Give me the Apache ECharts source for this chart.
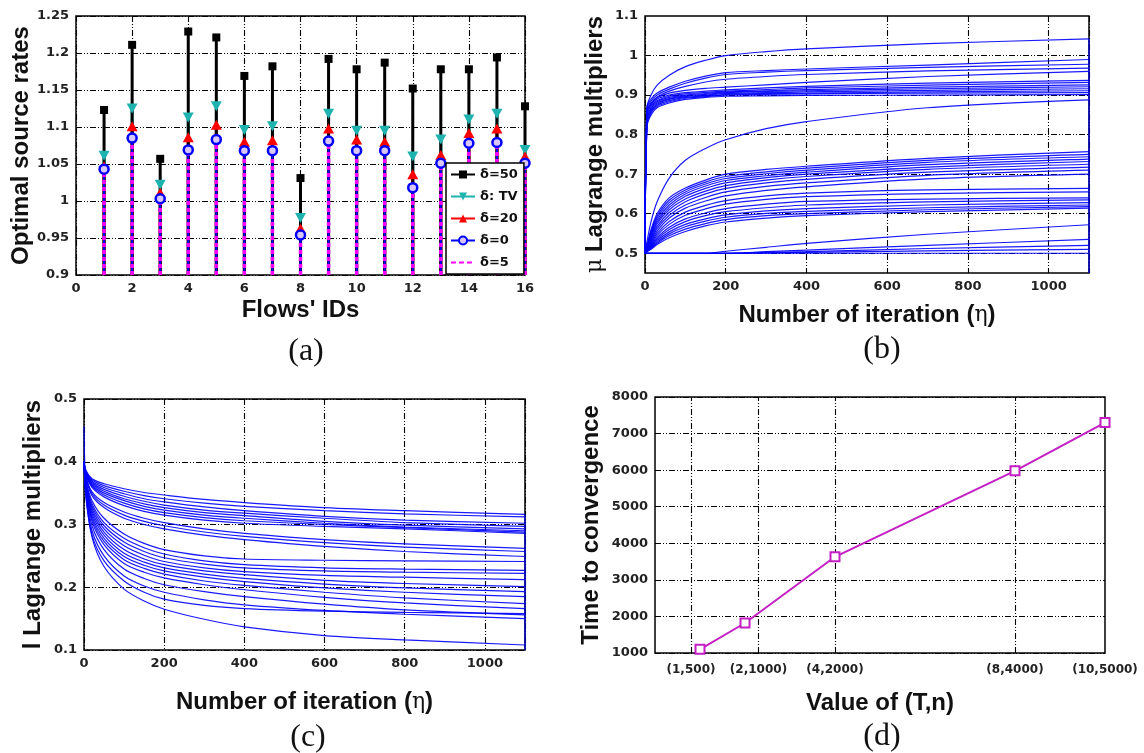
<!DOCTYPE html>
<html><head><meta charset="utf-8">
<script src="https://cdn.jsdelivr.net/npm/echarts@6/dist/echarts.min.js"></script>
<style>html,body{margin:0;padding:0;background:#fff}#c{width:1144px;height:753px}</style>
</head><body><div id="c"></div>
<script>
// ---------- Panel (a): optimal source rates ----------
const flowIds = [1,2,3,4,5,6,7,8,9,10,11,12,13,14,15,16];
const rateD50 = [1.123,1.211,1.057,1.229,1.221,1.169,1.182,1.031,1.192,1.178,1.187,1.152,1.178,1.178,1.194,1.128];
const rateTV  = [1.061,1.125,1.022,1.113,1.128,1.096,1.101,0.977,1.118,1.095,1.095,1.060,1.083,1.110,1.118,1.069];
const rateD20 = [1.047,1.101,1.011,1.086,1.103,1.080,1.082,0.963,1.098,1.083,1.080,1.036,1.062,1.092,1.098,1.060];
const rateD0  = [1.043,1.085,1.003,1.069,1.083,1.068,1.068,0.954,1.081,1.068,1.068,1.018,1.051,1.078,1.079,1.051];
const rateD5  = [1.043,1.085,1.003,1.069,1.083,1.068,1.068,0.954,1.081,1.068,1.068,1.018,1.051,1.078,1.079,1.051];
const rateNames = ['δ=50','δ: TV','δ=20','δ=0','δ=5'];
const rateAxisMin = 0.9, rateAxisMax = 1.25;

// ---------- Panel (b): mu Lagrange multipliers ----------
const iterB = [0,5,15,30,60,100,150,200,300,400,700,1100];
const muCurves = [
 [0.5,0.87,0.9,0.925,0.95,0.972,0.988,1.0,1.01,1.017,1.03,1.042],
 [0.5,0.87,0.89,0.905,0.92,0.935,0.948,0.957,0.962,0.966,0.976,0.99],
 [0.5,0.865,0.885,0.9,0.915,0.93,0.943,0.952,0.958,0.962,0.97,0.978],
 [0.5,0.86,0.88,0.895,0.91,0.922,0.933,0.94,0.947,0.952,0.961,0.968],
 [0.5,0.86,0.878,0.893,0.905,0.912,0.917,0.92,0.926,0.932,0.947,0.96],
 [0.5,0.855,0.875,0.89,0.9,0.906,0.91,0.913,0.918,0.922,0.93,0.937],
 [0.5,0.85,0.872,0.886,0.897,0.903,0.907,0.91,0.914,0.918,0.925,0.932],
 [0.5,0.845,0.868,0.883,0.894,0.9,0.904,0.908,0.911,0.914,0.92,0.926],
 [0.5,0.84,0.865,0.88,0.891,0.898,0.902,0.906,0.909,0.911,0.916,0.921],
 [0.5,0.835,0.862,0.877,0.889,0.896,0.9,0.904,0.906,0.908,0.912,0.916],
 [0.5,0.83,0.858,0.874,0.886,0.894,0.898,0.902,0.904,0.905,0.908,0.911],
 [0.5,0.825,0.855,0.871,0.883,0.892,0.896,0.9,0.902,0.903,0.905,0.906],
 [0.5,0.82,0.85,0.868,0.88,0.889,0.894,0.897,0.898,0.899,0.9,0.901],
 [0.5,0.53,0.58,0.63,0.69,0.735,0.765,0.787,0.815,0.833,0.868,0.888],
 [0.5,0.52,0.56,0.6,0.64,0.665,0.685,0.70,0.712,0.72,0.74,0.757],
 [0.5,0.518,0.555,0.594,0.634,0.66,0.68,0.694,0.706,0.715,0.735,0.75],
 [0.5,0.517,0.551,0.589,0.628,0.655,0.675,0.689,0.701,0.71,0.73,0.744],
 [0.5,0.516,0.547,0.584,0.622,0.65,0.67,0.684,0.696,0.705,0.724,0.738],
 [0.5,0.515,0.543,0.579,0.616,0.644,0.664,0.678,0.691,0.70,0.718,0.732],
 [0.5,0.514,0.539,0.574,0.61,0.637,0.657,0.671,0.685,0.694,0.712,0.725],
 [0.5,0.513,0.535,0.568,0.603,0.63,0.65,0.664,0.678,0.687,0.705,0.718],
 [0.5,0.512,0.531,0.562,0.596,0.622,0.641,0.655,0.669,0.678,0.697,0.71],
 [0.5,0.511,0.528,0.556,0.589,0.614,0.632,0.645,0.659,0.668,0.688,0.70],
 [0.5,0.51,0.525,0.55,0.58,0.604,0.621,0.633,0.645,0.652,0.66,0.664],
 [0.5,0.509,0.522,0.545,0.573,0.596,0.612,0.624,0.636,0.643,0.651,0.655],
 [0.5,0.508,0.52,0.54,0.566,0.587,0.602,0.613,0.624,0.631,0.637,0.64],
 [0.5,0.507,0.518,0.536,0.56,0.58,0.595,0.605,0.615,0.622,0.63,0.635],
 [0.5,0.506,0.516,0.532,0.554,0.573,0.587,0.597,0.607,0.613,0.622,0.628],
 [0.5,0.505,0.514,0.528,0.549,0.567,0.581,0.591,0.601,0.606,0.615,0.622],
 [0.5,0.504,0.512,0.525,0.544,0.561,0.575,0.585,0.595,0.6,0.61,0.618],
 [0.5,0.504,0.51,0.522,0.539,0.555,0.569,0.579,0.589,0.595,0.605,0.614],
 [0.5,0.5,0.5,0.5,0.5,0.5,0.5,0.505,0.515,0.525,0.548,0.572],
 [0.5,0.5,0.5,0.5,0.5,0.5,0.5,0.5,0.504,0.508,0.52,0.535],
 [0.5,0.5,0.5,0.5,0.5,0.5,0.5,0.5,0.502,0.504,0.512,0.52],
 [0.5,0.5,0.5,0.5,0.5,0.5,0.5,0.5,0.501,0.502,0.506,0.51],
 [0.5,0.5,0.5,0.5,0.5,0.5,0.5,0.5,0.5,0.5,0.5,0.5]
];
const muEdge = [[1100,0.45],[1100,1.042]];
const muGridY = [0.5,0.6,0.7,0.8,0.9,1.0];

// ---------- Panel (c): l Lagrange multipliers ----------
const iterC = [0,5,20,50,100,150,200,300,400,600,800,1100];
const lambdaCurves = [
 [0.40,0.386,0.373,0.365,0.357,0.351,0.347,0.34,0.335,0.327,0.322,0.316],
 [0.40,0.385,0.371,0.362,0.353,0.346,0.341,0.334,0.329,0.322,0.317,0.312],
 [0.40,0.384,0.369,0.359,0.349,0.341,0.336,0.328,0.322,0.313,0.307,0.302],
 [0.40,0.383,0.367,0.356,0.345,0.337,0.331,0.323,0.318,0.31,0.303,0.297],
 [0.40,0.382,0.365,0.353,0.341,0.333,0.327,0.319,0.314,0.305,0.299,0.293],
 [0.40,0.381,0.363,0.35,0.338,0.329,0.323,0.315,0.31,0.302,0.296,0.29],
 [0.40,0.38,0.361,0.347,0.334,0.325,0.319,0.311,0.306,0.3,0.295,0.288],
 [0.40,0.379,0.359,0.344,0.33,0.321,0.315,0.307,0.302,0.297,0.293,0.286],
 [0.40,0.376,0.352,0.335,0.32,0.31,0.303,0.293,0.286,0.276,0.269,0.262],
 [0.40,0.375,0.349,0.331,0.315,0.305,0.298,0.288,0.281,0.271,0.264,0.257],
 [0.40,0.374,0.346,0.327,0.31,0.3,0.293,0.283,0.276,0.265,0.257,0.249],
 [0.40,0.37,0.338,0.31,0.285,0.27,0.26,0.25,0.245,0.243,0.242,0.241],
 [0.40,0.368,0.333,0.303,0.278,0.263,0.253,0.242,0.236,0.231,0.229,0.227],
 [0.40,0.366,0.329,0.298,0.272,0.257,0.247,0.237,0.231,0.226,0.224,0.222],
 [0.40,0.364,0.325,0.293,0.266,0.251,0.241,0.231,0.225,0.219,0.216,0.212],
 [0.40,0.362,0.321,0.288,0.26,0.245,0.236,0.226,0.22,0.211,0.206,0.201],
 [0.40,0.36,0.317,0.283,0.254,0.24,0.231,0.221,0.214,0.205,0.199,0.193],
 [0.40,0.358,0.313,0.278,0.249,0.235,0.226,0.216,0.209,0.199,0.192,0.185],
 [0.40,0.356,0.309,0.273,0.244,0.23,0.221,0.21,0.203,0.192,0.183,0.174],
 [0.40,0.354,0.305,0.268,0.238,0.224,0.215,0.204,0.196,0.184,0.175,0.166],
 [0.40,0.35,0.298,0.26,0.229,0.214,0.204,0.193,0.185,0.173,0.164,0.156],
 [0.40,0.346,0.29,0.25,0.218,0.202,0.192,0.18,0.172,0.163,0.157,0.15],
 [0.40,0.342,0.283,0.242,0.21,0.192,0.181,0.171,0.166,0.162,0.16,0.158],
 [0.456,0.35,0.28,0.233,0.197,0.178,0.165,0.149,0.137,0.123,0.116,0.108]
];
const lambdaEdge = [[1100,0.1],[1100,0.316]];

// ---------- Panel (d): time to convergence ----------
const tnN = [500,1000,2000,4000,5000];
const convTime = [1100,1820,3630,5980,7300];
const tnTickPos = [400,1150,2000,4000,5000];
const tnLabels = ['(1,500)','(2,1000)','(4,2000)','(8,4000)','(10,5000)'];
const tnGridX = [400,1150,2000,4000];

// ---------- styles ----------
const gridLine = {color:'#000', width:1.1, type:[6,2,1,2,1,2]};
const tickFont = {fontFamily:'DejaVu Sans', fontWeight:'bold', fontSize:13, color:'#222'};
const nameFont = {fontFamily:'Liberation Sans', fontWeight:'bold', fontSize:24, color:'#111',
  rich:{g:{fontFamily:'DejaVu Serif', fontWeight:'normal', fontSize:22, color:'#111'}}};
const frame = {show:true, borderColor:'#000', borderWidth:1.5, backgroundColor:'#fff'};
const BLUE = '#0000ff';
const plainNum = v => String(+(+v).toFixed(4));

function valueAxis(o){
  return Object.assign({type:'value', axisLine:{show:false}, axisTick:{show:false},
    splitLine:{show:true, lineStyle:gridLine}, axisLabel:Object.assign({margin:7, formatter:plainNum}, tickFont),
    nameLocation:'middle', nameTextStyle:nameFont}, o);
}

function stem(vals, color, width, dash){
  return {type:'custom', xAxisIndex:0, yAxisIndex:0, silent:true,
    data: flowIds.map((f,i)=>[f, vals[i]]), encode:{x:0,y:1},
    renderItem:(params, api)=>{
      const p0 = api.coord([api.value(0), rateAxisMin]);
      const p1 = api.coord([api.value(0), api.value(1)]);
      return {type:'line', shape:{x1:p0[0],y1:p0[1],x2:p1[0],y2:p1[1]},
        style:{stroke:color, lineWidth:width, lineDash:dash||null}};
    }};
}
function markers(name, vals, color, symbol, size, extra){
  return Object.assign({type:'line', name, xAxisIndex:0, yAxisIndex:0,
    data: flowIds.map((f,i)=>[f, vals[i]]), symbol, symbolSize:size,
    itemStyle:{color, opacity:1}, lineStyle:{color, width:3, opacity:0}, z:4}, extra||{});
}

const series = [
  stem(rateTV, '#1fb3b0', 3),
  stem(rateD20, '#ff0000', 3),
  stem(rateD50, '#000000', 3),
  stem(rateD0, BLUE, 2),
  stem(rateD5, '#ff00ff', 3.5, [4,3]),
  markers('δ=50', rateD50, '#000', 'rect', 8),
  markers('δ: TV', rateTV, '#1fb3b0', 'triangle', [11,10], {symbolRotate:180}),
  markers('δ=20', rateD20, '#ff0000', 'triangle', [11,10]),
  markers('δ=0', rateD0, BLUE, 'circle', 9, {itemStyle:{color:'#d8c8ff', borderColor:BLUE, borderWidth:2.5, opacity:1}}),
  {type:'line', name:'δ=5', xAxisIndex:0, yAxisIndex:0, data: flowIds.map((f,i)=>[f, rateD5[i]]),
    showSymbol:false, symbol:'none', lineStyle:{color:'#ff00ff', width:3, type:[5,3], opacity:0}, itemStyle:{color:'#ff00ff'}}
];

muCurves.forEach(c=>series.push({type:'line', xAxisIndex:1, yAxisIndex:1, silent:true,
  data: iterB.map((x,i)=>[x,c[i]]), smooth:0.3, symbol:'none',
  lineStyle:{color:BLUE, width:1.2, opacity:0.9}, z:3}));
series.push({type:'line', xAxisIndex:1, yAxisIndex:1, silent:true, data:muEdge, symbol:'none',
  lineStyle:{color:BLUE, width:1.2}, z:3,
  markLine:{silent:true, symbol:'none', label:{show:false}, lineStyle:gridLine, z:1,
    data: muGridY.map(v=>({yAxis:v}))}});

lambdaCurves.forEach(c=>series.push({type:'line', xAxisIndex:2, yAxisIndex:2, silent:true,
  data: iterC.map((x,i)=>[x,c[i]]), smooth:0.3, symbol:'none',
  lineStyle:{color:BLUE, width:1.2, opacity:0.9}, z:3}));
series.push({type:'line', xAxisIndex:2, yAxisIndex:2, silent:true, data:lambdaEdge, symbol:'none',
  lineStyle:{color:BLUE, width:1.2}, z:3});

series.push({type:'line', xAxisIndex:3, yAxisIndex:3, silent:true,
  data: tnN.map((n,i)=>[n, convTime[i]]), symbol:'emptyRect', symbolSize:9,
  lineStyle:{color:'#c41fc4', width:2}, itemStyle:{color:'#c41fc4', borderWidth:1.5}, z:4,
  markLine:{silent:true, symbol:'none', label:{show:false}, lineStyle:gridLine, z:1,
    data: tnGridX.map(v=>({xAxis:v}))}});

const option = {
  animation:false,
  backgroundColor:'#fff',
  grid:[
    Object.assign({left:76, top:16, width:449, height:259}, frame),
    Object.assign({left:645, top:16, width:444, height:257}, frame),
    Object.assign({left:84, top:399, width:441, height:251}, frame),
    Object.assign({left:655, top:397, width:450, height:256}, frame)
  ],
  xAxis:[
    valueAxis({gridIndex:0, min:0, max:16, interval:2, name:"Flows' IDs", nameGap:23}),
    valueAxis({gridIndex:1, min:0, max:1100, interval:200, name:'Number of iteration ({g|η})', nameGap:30,
      axisLabel:Object.assign({margin:7, showMaxLabel:false, formatter:plainNum}, tickFont)}),
    valueAxis({gridIndex:2, min:0, max:1100, interval:200, name:'Number of iteration ({g|η})', nameGap:40,
      axisLabel:Object.assign({margin:7, showMaxLabel:false, formatter:plainNum}, tickFont)}),
    valueAxis({gridIndex:3, min:0, max:5000, name:'Value of (T,n)', nameGap:38, splitLine:{show:false},
      axisLabel:Object.assign({margin:11, customValues:tnTickPos,
        formatter:v=>{const k=tnTickPos.indexOf(v); return k>=0?tnLabels[k]:'';}}, tickFont, {fontSize:12})})
  ],
  yAxis:[
    valueAxis({gridIndex:0, min:rateAxisMin, max:rateAxisMax, interval:0.05, name:'Optimal source rates', nameGap:41}),
    valueAxis({gridIndex:1, min:0.45, max:1.1, interval:0.05, name:'{g|μ} Lagrange multipliers', nameGap:38,
      splitLine:{show:false},
      axisLabel:Object.assign({margin:7, formatter:v=>{const t=v*10; return Math.abs(t-Math.round(t))<1e-6 ? plainNum(v) : '';}}, tickFont)}),
    valueAxis({gridIndex:2, min:0.1, max:0.5, interval:0.1, name:'l Lagrange multipliers', nameGap:39}),
    valueAxis({gridIndex:3, min:1000, max:8000, interval:1000, name:'Time to convergence', nameGap:52})
  ],
  legend:{
    data: ['δ=50','δ: TV','δ=20','δ=0',{name:'δ=5', itemStyle:{opacity:0}}],
    orient:'vertical', left:446, top:163, itemWidth:24, itemHeight:10, itemGap:9,
    borderColor:'#000', borderWidth:1.5, backgroundColor:'#fff', padding:[5,6,5,4], borderRadius:0,
    textStyle:{fontFamily:'DejaVu Sans', fontWeight:'bold', fontSize:13, color:'#111'},
    lineStyle:{opacity:1}, itemStyle:{opacity:1}, selectedMode:false, z:10
  },
  graphic:[
    {type:'text', x:306, y:352, style:{text:'(a)', font:'32px "Liberation Serif"', align:'center', verticalAlign:'middle', fill:'#111'}},
    {type:'text', x:882, y:350, style:{text:'(b)', font:'32px "Liberation Serif"', align:'center', verticalAlign:'middle', fill:'#111'}},
    {type:'text', x:308, y:738, style:{text:'(c)', font:'32px "Liberation Serif"', align:'center', verticalAlign:'middle', fill:'#111'}},
    {type:'text', x:882, y:737, style:{text:'(d)', font:'32px "Liberation Serif"', align:'center', verticalAlign:'middle', fill:'#111'}}
  ],
  series
};
echarts.init(document.getElementById('c'), null, {renderer:'canvas'}).setOption(option);
</script>
</body></html>
